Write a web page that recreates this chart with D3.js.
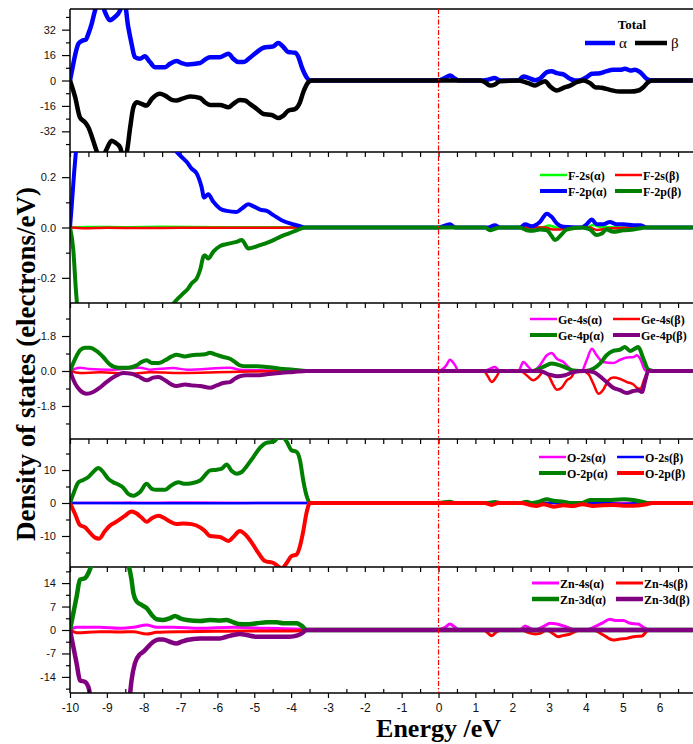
<!DOCTYPE html>
<html lang="en">
<head>
<meta charset="UTF-8">
<title>Density of states</title>
<script src="https://d3js.org/d3.v7.min.js"></script>
<style>
    body { margin: 0; background: #fff; }
    .tick text { font-family: "Liberation Sans", Arial, sans-serif; fill: #111; }
    .legend text { font-family: "Liberation Serif", "Times New Roman", serif; font-weight: bold; font-size: 12px; fill: #000; }
    .axis-title { font-family: "Liberation Serif", "Times New Roman", serif; font-weight: bold; fill: #000; }
</style>
</head>
<body>
<div id="chart"></div>
<script>
// ---- data: [energy (eV), DOS] ----
const totA = [[-10,0],[-9.955,5.3],[-9.77,23.2],[-9.68,24.9],[-9.57,25.7],[-9.50,29.5],[-9.41,35.8],[-9.32,44.2],[-9.19,52],[-9.05,43],[-8.92,37.9],[-8.78,40],[-8.64,44.2],[-8.54,52],[-8.42,33.7],[-8.33,23.2],[-8.24,14.7],[-8.10,13.7],[-7.97,15.2],[-7.83,11.6],[-7.69,8.4],[-7.42,8.4],[-7.29,10.5],[-7.11,12.2],[-6.97,11.0],[-6.83,10.1],[-6.47,11.0],[-6.34,13.1],[-6.20,14.7],[-5.93,14.7],[-5.70,16.9],[-5.57,13.7],[-5.43,11.6],[-5.30,11.6],[-5.12,14.3],[-4.93,17.9],[-4.75,20.6],[-4.48,21.5],[-4.35,23.6],[-4.21,21.1],[-4.08,17.9],[-3.89,17.5],[-3.80,14.7],[-3.71,8.4],[-3.58,2.1],[-3.49,0],
    [0,0],[0.18,1.7],[0.31,3.2],[0.45,1.05],[0.54,0],[1.13,0],[1.31,0.4],[1.53,1.5],[1.67,0],[2.17,0],[2.30,2.5],[2.44,1.7],[2.62,0.2],[2.75,1.05],[2.94,5.3],[3.07,5.9],[3.21,4.6],[3.39,3.8],[3.57,1.05],[3.70,0],[3.88,0.4],[4.02,2.1],[4.16,4.2],[4.38,4.6],[4.56,5.9],[4.74,6.7],[4.93,6.7],[5.06,7.4],[5.20,6.3],[5.33,6.7],[5.47,5.3],[5.65,1.05],[5.79,0],[6.9,0]];
const totB = [[-10,0],[-9.86,-10.5],[-9.73,-23.2],[-9.59,-26.3],[-9.50,-29.5],[-9.37,-37.9],[-9.28,-44.2],[-9.15,-50],[-9.02,-44],[-8.87,-37.9],[-8.78,-39],[-8.64,-42.1],[-8.55,-48],[-8.46,-45],[-8.37,-30],[-8.28,-16.9],[-8.19,-13.7],[-8.06,-14.7],[-7.92,-15.8],[-7.78,-11.6],[-7.56,-8.4],[-7.42,-9.5],[-7.24,-12.2],[-7.11,-12.6],[-6.97,-11.6],[-6.74,-10.1],[-6.47,-11.0],[-6.34,-13.7],[-6.20,-15.4],[-5.93,-15.4],[-5.70,-16.9],[-5.57,-14.7],[-5.39,-12.2],[-5.25,-12.6],[-5.12,-14.7],[-4.93,-17.9],[-4.75,-21.1],[-4.53,-21.7],[-4.35,-23.6],[-4.21,-22.1],[-4.08,-19.0],[-3.89,-17.9],[-3.76,-13.7],[-3.67,-7.4],[-3.53,-1.05],[-3.44,0],
    [0,0],[1.13,0],[1.26,-1.05],[1.40,-3.2],[1.53,-2.5],[1.67,-0.4],[2.17,0],[2.35,-1.05],[2.48,-2.1],[2.62,-3.2],[2.75,-1.7],[2.89,-0.4],[3.03,-3.8],[3.21,-6.3],[3.39,-4.6],[3.57,-3.2],[3.75,-1.05],[3.93,0],[4.11,-1.7],[4.25,-4.2],[4.43,-4.6],[4.65,-5.9],[4.93,-7.0],[5.20,-7.0],[5.42,-6.3],[5.56,-4.2],[5.69,-1.05],[5.79,0],[6.9,0]];

const f2sA = [[-10,0],[-9.5,0.002],[-8.5,0.001],[-7.6,0.003],[-6,0.001],[-4,0.001],[-3.6,0],[2.8,0],[3.0,0.008],[3.2,0],[4.0,0],[4.2,0.01],[4.4,0.002],[5.6,0],[6.9,0]];
const f2sB = [[-10,0],[-9.6,-0.003],[-9,-0.001],[-8,-0.002],[-7,-0.001],[-5,-0.001],[-3.6,0],[2.9,0],[3.1,-0.008],[3.3,-0.008],[3.5,0],[4.1,0],[4.3,-0.01],[4.6,-0.004],[5.6,0],[6.9,0]];
const f2pA = [[-10,0],[-9.955,0.082],[-9.89,0.214],[-9.84,0.30],[-9.75,0.45],[-9.5,0.6],[-9.0,0.6],[-8.5,0.55],[-8.0,0.48],[-7.5,0.38],[-7.105,0.30],[-6.97,0.28],[-6.83,0.26],[-6.70,0.234],[-6.56,0.214],[-6.43,0.161],[-6.36,0.119],[-6.25,0.132],[-6.11,0.102],[-5.93,0.075],[-5.75,0.066],[-5.48,0.062],[-5.34,0.075],[-5.16,0.092],[-5.02,0.084],[-4.84,0.071],[-4.66,0.066],[-4.48,0.049],[-4.26,0.029],[-4.03,0.016],[-3.80,0.007],[-3.62,0],
    [0,0],[0.31,0.013],[0.45,0],[1.35,0],[1.53,0.009],[1.67,0],[2.21,0],[2.35,0.013],[2.53,0.005],[2.75,0.022],[2.94,0.055],[3.07,0.042],[3.21,0.016],[3.39,0.003],[3.88,0],[4.02,0.013],[4.16,0.032],[4.29,0.013],[4.47,0.013],[4.65,0.022],[4.83,0.013],[5.02,0.013],[5.29,0.009],[5.47,0.009],[5.65,0],[6.9,0]];
const f2pB = [[-10,0],[-9.91,-0.09],[-9.84,-0.248],[-9.78,-0.35],[-9.5,-0.55],[-9,-0.6],[-8.5,-0.55],[-8,-0.47],[-7.5,-0.36],[-7.06,-0.281],[-6.92,-0.261],[-6.79,-0.242],[-6.70,-0.222],[-6.56,-0.202],[-6.47,-0.169],[-6.38,-0.116],[-6.34,-0.11],[-6.25,-0.123],[-6.11,-0.096],[-5.93,-0.074],[-5.75,-0.066],[-5.48,-0.057],[-5.34,-0.050],[-5.16,-0.083],[-5.02,-0.079],[-4.84,-0.070],[-4.66,-0.061],[-4.48,-0.050],[-4.30,-0.037],[-4.07,-0.024],[-3.85,-0.011],[-3.62,0],
    [0,0],[1.26,0],[1.40,-0.011],[1.53,-0.005],[1.67,0],[2.21,0],[2.39,-0.011],[2.57,-0.013],[2.75,-0.008],[2.94,-0.011],[3.07,-0.034],[3.16,-0.05],[3.30,-0.034],[3.48,-0.008],[3.88,0],[4.11,-0.008],[4.29,-0.030],[4.43,-0.024],[4.56,-0.008],[4.74,-0.017],[5.02,-0.011],[5.29,-0.008],[5.65,0],[6.9,0]];

const ge4sA = [[-10,0],[-9.73,0.17],[-9.46,0.10],[-8.92,0.07],[-8.10,0.17],[-7.83,0.07],[-7.20,0.15],[-6.83,0.07],[-5.66,0.17],[-5.39,0.07],[-4.66,0.03],[-3.76,0],
    [0,0],[0.21,0.29],[0.31,0.58],[0.45,0.29],[0.54,0],[1.22,0],[1.40,0.12],[1.53,0.21],[1.67,0],[2.17,0],[2.30,0.46],[2.44,0.21],[2.57,0],[2.75,0.29],[2.94,0.81],[3.07,0.93],[3.21,0.63],[3.39,0.46],[3.52,0.21],[3.66,0],[3.88,0],[4.02,0.55],[4.16,1.15],[4.29,0.81],[4.47,0.46],[4.74,0.41],[4.93,0.58],[5.11,0.69],[5.29,0.72],[5.38,0.81],[5.47,0.63],[5.61,0.03],[5.74,0],[6.9,0]];
const ge4sB = [[-10,0],[-9.73,-0.10],[-9.19,-0.07],[-8.33,-0.14],[-7.83,-0.07],[-6.83,-0.10],[-6.02,-0.07],[-5.12,-0.03],[-3.76,0],
    [0,0],[1.22,0],[1.35,-0.31],[1.44,-0.57],[1.58,-0.27],[1.67,0],[2.21,0],[2.39,-0.22],[2.57,-0.48],[2.71,-0.31],[2.84,-0.05],[2.98,-0.22],[3.12,-0.74],[3.21,-0.96],[3.34,-0.86],[3.48,-0.48],[3.61,-0.31],[3.70,-0.05],[3.88,0],[4.06,-0.14],[4.20,-0.65],[4.34,-1.17],[4.47,-0.96],[4.61,-0.48],[4.74,-0.34],[4.93,-0.41],[5.11,-0.57],[5.29,-0.69],[5.38,-0.86],[5.47,-0.91],[5.61,-0.31],[5.74,0],[6.9,0]];
const ge4pA = [[-10,0],[-9.86,0.63],[-9.73,1.06],[-9.59,1.20],[-9.46,1.20],[-9.28,1.03],[-9.10,0.72],[-8.92,0.34],[-8.69,0.17],[-8.42,0.17],[-8.19,0.29],[-8.06,0.46],[-7.92,0.55],[-7.78,0.41],[-7.60,0.41],[-7.42,0.55],[-7.24,0.75],[-7.11,0.84],[-6.88,0.75],[-6.70,0.81],[-6.47,0.84],[-6.34,0.86],[-6.20,0.94],[-6.07,0.86],[-5.84,0.72],[-5.66,0.63],[-5.52,0.46],[-5.39,0.29],[-5.21,0.24],[-4.93,0.24],[-4.66,0.21],[-4.30,0.12],[-3.94,0.07],[-3.58,0],
    [0,0],[2.21,0],[2.53,0],[2.84,0.21],[3.07,0.38],[3.30,0.29],[3.52,0.12],[3.66,0.03],[3.97,0],[4.20,0.12],[4.38,0.38],[4.56,0.81],[4.74,1.03],[4.93,1.10],[5.06,1.23],[5.20,1.03],[5.33,1.15],[5.42,1.23],[5.56,0.63],[5.69,0.07],[5.83,0],[6.9,0]];
const ge4pB = [[-10,0],[-9.86,-0.65],[-9.73,-0.99],[-9.55,-1.17],[-9.37,-1.08],[-9.19,-0.86],[-9.01,-0.57],[-8.78,-0.27],[-8.55,-0.10],[-8.33,-0.14],[-8.15,-0.27],[-7.92,-0.48],[-7.74,-0.34],[-7.60,-0.31],[-7.42,-0.48],[-7.24,-0.70],[-7.11,-0.77],[-6.88,-0.70],[-6.70,-0.74],[-6.47,-0.77],[-6.20,-0.86],[-6.02,-0.74],[-5.84,-0.62],[-5.66,-0.57],[-5.52,-0.39],[-5.39,-0.27],[-5.21,-0.22],[-4.93,-0.22],[-4.66,-0.17],[-4.30,-0.10],[-3.94,-0.05],[-3.58,0],
    [0,0],[2.75,0],[2.98,-0.17],[3.21,-0.27],[3.43,-0.22],[3.66,-0.05],[3.97,0],[4.20,-0.05],[4.38,-0.27],[4.56,-0.57],[4.74,-0.86],[4.93,-0.99],[5.11,-1.13],[5.29,-1.03],[5.42,-0.99],[5.52,-1.08],[5.61,-0.48],[5.69,0],[6.9,0]];

const o2sA = [[-10,0],[-8.8,0.05],[-8.4,0.15],[-8.0,0.05],[-7.3,0.12],[-6.6,0.15],[-5.8,0.1],[-5.2,0.02],[-3.6,0],[6.9,0]];
const o2sB = [[-10,0],[-8,-0.05],[-6,-0.05],[-3.6,0],[4.6,0],[4.9,-0.3],[5.2,-0.2],[5.4,0],[6.9,0]];
const o2pA = [[-10,0],[-9.91,2.75],[-9.77,6.3],[-9.64,7.0],[-9.50,7.9],[-9.37,9.4],[-9.23,10.6],[-9.10,9.4],[-8.96,7.3],[-8.83,6.3],[-8.69,5.6],[-8.55,4.6],[-8.42,2.75],[-8.28,2.2],[-8.10,3.3],[-7.92,5.8],[-7.78,4.3],[-7.65,4.0],[-7.42,4.0],[-7.29,5.0],[-7.06,6.3],[-6.88,5.8],[-6.70,6.0],[-6.47,6.8],[-6.34,8.4],[-6.20,9.9],[-6.02,10.1],[-5.88,10.4],[-5.75,11.7],[-5.61,9.7],[-5.48,8.9],[-5.34,9.4],[-5.21,11.1],[-5.02,14.0],[-4.84,16.8],[-4.66,18.3],[-4.48,18.6],[-4.35,19.9],[-4.26,20.3],[-4.12,18.6],[-3.99,16.0],[-3.85,15.5],[-3.76,13.0],[-3.67,6.8],[-3.58,2.2],[-3.49,0],
    [0,0],[0.31,0.4],[0.45,0],[1.35,0],[1.53,0.3],[1.67,0],[2.21,0],[2.39,0.4],[2.53,0],[2.75,0.5],[2.94,1.1],[3.12,0.7],[3.39,0.4],[3.57,0],[3.88,0],[4.11,0.9],[4.56,0.9],[5.02,1.1],[5.29,0.9],[5.56,0.3],[5.70,0],[6.9,0]];
const o2pB = [[-10,0],[-9.86,-3.4],[-9.73,-6.7],[-9.59,-7.4],[-9.46,-9.0],[-9.32,-10.5],[-9.21,-10.8],[-9.05,-8.5],[-8.92,-6.9],[-8.78,-5.9],[-8.64,-4.9],[-8.51,-3.9],[-8.33,-2.55],[-8.19,-3.2],[-8.06,-4.4],[-7.92,-5.7],[-7.78,-4.6],[-7.60,-3.9],[-7.47,-4.4],[-7.29,-5.6],[-7.11,-6.4],[-6.92,-6.2],[-6.70,-6.4],[-6.47,-7.4],[-6.34,-8.5],[-6.20,-10.0],[-5.93,-10.3],[-5.70,-11.5],[-5.57,-10.3],[-5.39,-8.5],[-5.25,-9.5],[-5.07,-12.0],[-4.89,-15.1],[-4.71,-17.6],[-4.48,-18.2],[-4.35,-19.2],[-4.26,-19.9],[-4.12,-18.2],[-3.99,-16.1],[-3.85,-15.6],[-3.76,-13.1],[-3.67,-8.5],[-3.58,-2.9],[-3.49,0],
    [0,0],[1.26,0],[1.44,-0.6],[1.62,0],[2.26,0],[2.48,-0.6],[2.66,-0.9],[2.84,-0.4],[3.12,-1.1],[3.39,-0.7],[3.66,-0.9],[3.90,-0.4],[4.20,-0.9],[4.47,-0.7],[4.74,-0.6],[5.02,-0.8],[5.29,-0.8],[5.65,-0.4],[5.79,0],[6.9,0]];

const zn4sA = [[-10,0],[-9.82,0.8],[-9.19,0.8],[-8.64,0.5],[-8.28,0.8],[-7.92,1.5],[-7.65,0.8],[-7.20,0.8],[-6.47,0.5],[-5.57,0.8],[-4.66,0.5],[-3.76,0.2],[-3.58,0],
    [0,0],[0.18,0.8],[0.31,1.8],[0.45,0.8],[0.58,0],[2.21,0],[2.35,1.2],[2.48,0.5],[2.62,0],[2.84,1.0],[3.03,2.0],[3.21,1.8],[3.39,1.2],[3.57,0.5],[3.70,0],[4.02,0],[4.20,0.8],[4.43,2.0],[4.65,3.2],[4.83,2.8],[5.02,2.8],[5.20,2.0],[5.42,1.8],[5.56,0.8],[5.70,0],[6.9,0]];
const zn4sB = [[-10,0],[-9.82,-0.8],[-9.19,-0.5],[-8.64,-0.6],[-8.28,-0.5],[-7.92,-1.2],[-7.65,-0.7],[-6.92,-0.5],[-6.02,-0.4],[-5.12,-0.3],[-4.21,-0.3],[-3.76,-0.2],[-3.58,0],
    [0,0],[1.22,0],[1.35,-1.0],[1.44,-1.7],[1.58,-0.5],[1.67,0],[2.26,0],[2.44,-0.8],[2.62,-1.2],[2.75,-1.0],[2.94,0],[3.12,-1.2],[3.25,-2.0],[3.39,-1.6],[3.57,-1.2],[3.70,-0.5],[3.84,0],[4.20,0],[4.47,-1.5],[4.74,-3.0],[4.93,-2.7],[5.11,-2.5],[5.29,-2.0],[5.52,-1.8],[5.70,0],[6.9,0]];
const zn3dA = [[-10,0],[-9.91,5.0],[-9.82,10.0],[-9.73,15.0],[-9.59,15.5],[-9.50,17],[-9.40,20],[-9.2,30],[-8.9,38],[-8.6,30],[-8.42,20],[-8.33,15],[-8.28,11],[-8.19,8.5],[-8.06,7.5],[-7.92,6.5],[-7.78,4.5],[-7.65,3.2],[-7.47,3.0],[-7.29,3.5],[-7.15,4.2],[-7.01,3.5],[-6.83,3.0],[-6.47,2.7],[-6.20,3.0],[-5.93,2.8],[-5.75,3.0],[-5.61,2.5],[-5.43,1.8],[-5.21,1.7],[-4.93,2.0],[-4.66,2.3],[-4.39,2.3],[-4.21,2.0],[-4.03,2.0],[-3.85,2.0],[-3.71,1.2],[-3.58,0],[6.9,0]];
const zn3dB = [[-10,0],[-9.91,-5],[-9.82,-10],[-9.73,-15],[-9.59,-15.5],[-9.50,-17],[-9.46,-19],[-9.3,-28],[-8.9,-36],[-8.5,-28],[-8.37,-19],[-8.33,-15],[-8.24,-10],[-8.10,-7.2],[-8.01,-6.5],[-7.88,-5],[-7.74,-3.5],[-7.60,-2.8],[-7.47,-2.8],[-7.29,-3.5],[-7.11,-4],[-6.97,-3.5],[-6.83,-3],[-6.47,-2.5],[-5.93,-2.5],[-5.75,-2],[-5.57,-1.5],[-5.39,-1.2],[-5.21,-1.5],[-4.93,-2],[-4.30,-2],[-4.03,-2],[-3.85,-1.7],[-3.71,-1],[-3.58,0],[6.9,0]];

// ---- tick labels ----
const xTicks = [-10,-9,-8,-7,-6,-5,-4,-3,-2,-1,0,1,2,3,4,5,6];
const xMinor = [-9.5,-8.5,-7.5,-6.5,-5.5,-4.5,-3.5,-2.5,-1.5,-0.5,0.5,1.5,2.5,3.5,4.5,5.5,6.5];

const W = 693, H = 744;
const left = 70, right = 692.8;

const panels = [
    { top: 9, bottom: 152, domain: [-45, 45], ticks: [-32,-16,0,16,32], minor: [-40,-24,-8,8,24,40], fmt: d => String(d),
      series: [
        { data: totA, color: "#0000ff", width: 4.5, label: "α" },
        { data: totB, color: "#000000", width: 4.5, label: "β" }
      ] },
    { top: 152, bottom: 303, domain: [-0.3, 0.3], ticks: [-0.2,0,0.2], minor: [-0.1,0.1], fmt: d => d.toFixed(1),
      legend: { x1: 540, x2: 615, y: 175 },
      series: [
        { data: f2sA, color: "#00ff00", width: 2.5, label: "F-2s(α)" },
        { data: f2sB, color: "#ff0000", width: 2.5, label: "F-2s(β)" },
        { data: f2pA, color: "#0000ff", width: 4, label: "F-2p(α)" },
        { data: f2pB, color: "#008000", width: 4, label: "F-2p(β)" }
      ] },
    { top: 303, bottom: 439, domain: [-3.5, 3.5], ticks: [-1.8,0,1.8], minor: [-2.7,-0.9,0.9,2.7], fmt: d => d.toFixed(1),
      legend: { x1: 530, x2: 613, y: 319 },
      series: [
        { data: ge4sA, color: "#ff00ff", width: 2.5, label: "Ge-4s(α)" },
        { data: ge4sB, color: "#ff0000", width: 2.5, label: "Ge-4s(β)" },
        { data: ge4pA, color: "#008000", width: 4, label: "Ge-4p(α)" },
        { data: ge4pB, color: "#800080", width: 4, label: "Ge-4p(β)" }
      ] },
    { top: 439, bottom: 567, domain: [-19.4, 19.4], ticks: [-10,0,10], minor: [-15,-5,5,15], fmt: d => String(d),
      legend: { x1: 539, x2: 617, y: 457 },
      series: [
        { data: o2sA, color: "#ff00ff", width: 2.5, label: "O-2s(α)" },
        { data: o2sB, color: "#0000ff", width: 2.5, label: "O-2s(β)" },
        { data: o2pA, color: "#008000", width: 4, label: "O-2p(α)" },
        { data: o2pB, color: "#ff0000", width: 4, label: "O-2p(β)" }
      ] },
    { top: 567, bottom: 693, domain: [-18.8, 18.8], ticks: [-14,-7,0,7,14], minor: [-17.5,-10.5,-3.5,3.5,10.5,17.5], fmt: d => String(d),
      legend: { x1: 532, x2: 616, y: 583 },
      series: [
        { data: zn4sA, color: "#ff00ff", width: 3, label: "Zn-4s(α)" },
        { data: zn4sB, color: "#ff0000", width: 3, label: "Zn-4s(β)" },
        { data: zn3dA, color: "#008000", width: 4.5, label: "Zn-3d(α)" },
        { data: zn3dB, color: "#800080", width: 4.5, label: "Zn-3d(β)" }
      ] }
];

const svg = d3.select("#chart").append("svg")
    .attr("width", W)
    .attr("height", H);

const x = d3.scaleLinear().domain([-10, 6.9]).range([left, right]);

panels.forEach((p, i) => {
    const y = d3.scaleLinear().domain(p.domain).range([p.bottom, p.top]);
    const last = i === panels.length - 1;

    // clip curves to the panel
    svg.append("clipPath").attr("id", "clip" + i)
       .append("rect")
       .attr("x", left).attr("y", p.top)
       .attr("width", W - left).attr("height", p.bottom - p.top);

    const line = d3.line()
        .x(d => x(d[0]))
        .y(d => y(d[1]))
        .curve(d3.curveMonotoneX);

    const g = svg.append("g").attr("clip-path", `url(#clip${i})`);
    p.series.forEach(s => {
        g.append("path")
         .datum(s.data)
         .attr("fill", "none")
         .attr("stroke", s.color)
         .attr("stroke-width", s.width)
         .attr("stroke-linejoin", "round")
         .attr("d", line);
    });

    // Y axis, major + minor
    svg.append("g")
       .attr("transform", `translate(${left},0)`)
       .call(d3.axisLeft(y).tickValues(p.ticks).tickFormat(p.fmt).tickSize(8).tickPadding(6))
       .call(a => a.select(".domain").remove())
       .call(a => a.selectAll(".tick text").style("font-size", "11px"))
       .call(a => a.selectAll(".tick line").attr("stroke-width", 1.2));
    svg.append("g")
       .attr("transform", `translate(${left},0)`)
       .call(d3.axisLeft(y).tickValues(p.minor).tickFormat("").tickSize(4))
       .call(a => a.select(".domain").remove())
       .call(a => a.selectAll(".tick line").attr("stroke-width", 1.2));

    // X axis at panel bottom
    const xa = svg.append("g")
       .attr("transform", `translate(0,${p.bottom})`)
       .call(d3.axisBottom(x).tickValues(xTicks).tickSize(5).tickPadding(5)
             .tickFormat(last ? (d => String(d)) : ""))
       .call(a => a.select(".domain").remove())
       .call(a => a.selectAll(".tick text").style("font-size", "12px"))
       .call(a => a.selectAll(".tick line").attr("stroke-width", 1.2));
    svg.append("g")
       .attr("transform", `translate(0,${p.bottom})`)
       .call(d3.axisBottom(x).tickValues(xMinor).tickFormat("").tickSize(last ? -4 : 5))
       .call(a => a.select(".domain").remove())
       .call(a => a.selectAll(".tick line").attr("stroke-width", 1.2));

    // panel frame line
    svg.append("line")
       .attr("x1", left).attr("x2", W)
       .attr("y1", p.bottom).attr("y2", p.bottom)
       .attr("stroke", "#000").attr("stroke-width", 1.5);

    // legend
    const lg = svg.append("g").attr("class", "legend");
    if (i === 0) {
        lg.append("text").attr("x", 632).attr("y", 29)
          .attr("text-anchor", "middle").style("font-size", "13px").text("Total");
        const xs = [[585, 615], [635, 667]];
        p.series.forEach((s, k) => {
            lg.append("line")
              .attr("x1", xs[k][0]).attr("x2", xs[k][1])
              .attr("y1", 43).attr("y2", 43)
              .attr("stroke", s.color).attr("stroke-width", s.width);
            lg.append("text").attr("x", xs[k][1] + 4).attr("y", 48)
              .style("font-size", "15px").style("font-weight", "normal").text(s.label);
        });
    } else {
        const L = p.legend;
        p.series.forEach((s, k) => {
            const col = k % 2, row = Math.floor(k / 2);
            const lx = col ? L.x2 : L.x1;
            const ly = L.y + row * 16;
            lg.append("line")
              .attr("x1", lx).attr("x2", lx + 27)
              .attr("y1", ly).attr("y2", ly)
              .attr("stroke", s.color).attr("stroke-width", s.width);
            lg.append("text").attr("x", lx + 28).attr("y", ly + 4.5).text(s.label);
        });
    }
});

// top frame and left axis line
svg.append("line")
   .attr("x1", left).attr("x2", W)
   .attr("y1", panels[0].top).attr("y2", panels[0].top)
   .attr("stroke", "#000").attr("stroke-width", 1.5);
svg.append("line")
   .attr("x1", left).attr("x2", left)
   .attr("y1", panels[0].top).attr("y2", panels[panels.length - 1].bottom)
   .attr("stroke", "#000").attr("stroke-width", 1.5);

// Fermi level
svg.append("line")
   .attr("x1", x(0)).attr("x2", x(0))
   .attr("y1", panels[0].top).attr("y2", panels[panels.length - 1].bottom)
   .attr("stroke", "#ff0000").attr("stroke-width", 1.2)
   .attr("stroke-dasharray", "5,2,1.5,2");

// axis titles
svg.append("text")
   .attr("class", "axis-title")
   .attr("text-anchor", "middle")
   .attr("transform", "translate(35,364) rotate(-90)")
   .style("font-size", "27px")
   .text("Density of states (electrons/eV)");

svg.append("text")
   .attr("class", "axis-title")
   .attr("text-anchor", "middle")
   .attr("x", x(0))
   .attr("y", 737)
   .style("font-size", "26px")
   .text("Energy /eV");
</script>
</body>
</html>
